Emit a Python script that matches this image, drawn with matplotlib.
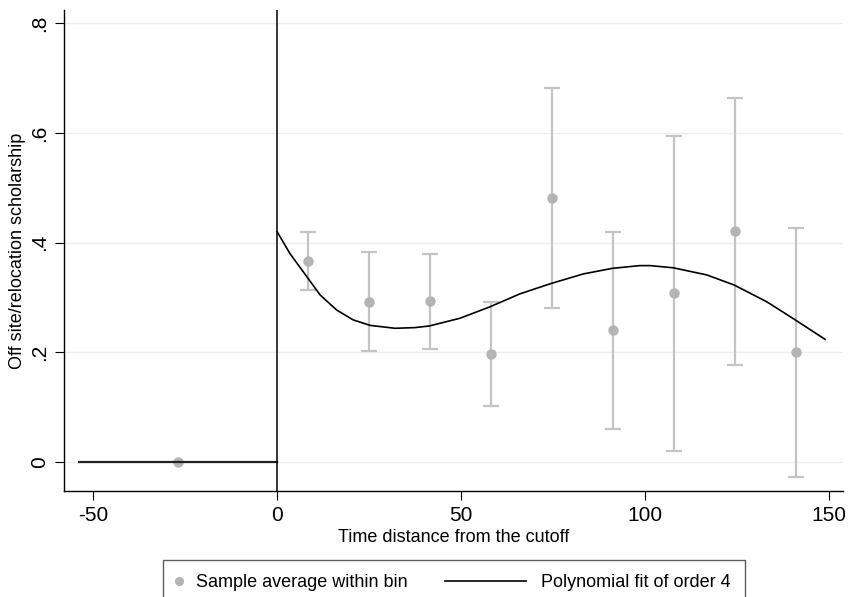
import matplotlib.pyplot as plt
import numpy as np
from matplotlib.legend_handler import HandlerLine2D

plt.rcParams['font.family'] = ['Liberation Sans', 'DejaVu Sans']
plt.rcParams['axes.unicode_minus'] = False

# bin averages right of the cutoff, with their confidence bands
bin_x = [8.3, 24.9, 41.5, 58.1, 74.7, 91.3, 107.9, 124.5, 141.1]
bin_mean = [0.3665, 0.2923, 0.293, 0.197, 0.481, 0.240, 0.3075, 0.4205, 0.200]
bin_lo = [0.3136, 0.2018, 0.206, 0.1027, 0.281, 0.060, 0.020, 0.1775, -0.0274]
bin_hi = [0.420, 0.3834, 0.379, 0.291, 0.682, 0.419, 0.594, 0.6636, 0.427]

# single bin left of the cutoff
left_x = [-26.9]
left_mean = [0.0]

# fitted curves
fit_left_x = [-53.8, 0]
fit_left_y = [0.0, 0.0]
fit_right_x = [0, 3.5, 7.2, 11.7, 16.2, 20.7, 25.3, 32.1, 37.5, 41.4, 49.7,
               57.9, 66.0, 74.6, 83.2, 91.1, 98.6, 101.4, 107.7, 116.8, 124.2,
               133.1, 140.6, 148.9]
fit_right_y = [0.420, 0.380, 0.346, 0.3045, 0.277, 0.259, 0.249, 0.2437,
               0.245, 0.248, 0.262, 0.283, 0.3065, 0.3257, 0.3428, 0.353,
               0.358, 0.358, 0.354, 0.341, 0.3227, 0.292, 0.260, 0.2237]

x_ticks = [-50, 0, 50, 100, 150]
y_ticks = [0, 0.2, 0.4, 0.6, 0.8]
y_tick_labels = ['0', '.2', '.4', '.6', '.8']

dot_col = '#b4b4b4'
bar_col = '#c4c4c4'


# legend line handle drawn longer than the (short) shared handle box
class LongLine(HandlerLine2D):
    def get_xdata(self, legend, xdescent, ydescent, width, height, fontsize):
        x1 = -xdescent + width
        x0 = x1 - 4.5 * fontsize
        return [x0, x1], [0.5 * (x0 + x1)]


fig = plt.figure(figsize=(8.5, 5.97), dpi=100)
ax = fig.add_axes([64/850, 1 - 491/597, (843 - 64)/850, (491 - 10)/597])

for y in y_ticks:
    ax.axhline(y, color='#eeeeee', lw=1.0, zorder=0)

mean = np.array(bin_mean)
yerr = [mean - np.array(bin_lo), np.array(bin_hi) - mean]
ax.errorbar(bin_x, bin_mean, yerr=yerr, fmt='none', ecolor=bar_col,
            elinewidth=1.6, capsize=5.5, capthick=1.6, zorder=2)
dots, = ax.plot(bin_x + left_x, bin_mean + left_mean, 'o', color=dot_col,
                markersize=6.5, zorder=3, label='Sample average within bin')

ax.plot(fit_left_x, fit_left_y, color='#222222', lw=1.6, zorder=4)
fit, = ax.plot(fit_right_x, fit_right_y, color='black', lw=1.2, zorder=4,
               label='Polynomial fit of order 4')

ax.axvline(0, color='black', lw=1.1, zorder=5)

ax.set_xlim(-57.9, 153.8)
ax.set_ylim(-0.0529, 0.824)
ax.set_xticks(x_ticks)
ax.set_yticks(y_ticks)
ax.set_yticklabels(y_tick_labels, rotation=90, va='center')
ax.tick_params(axis='both', labelsize=15, length=6.5, width=0.8, color='black')
ax.tick_params(axis='x', pad=4)
ax.tick_params(axis='y', pad=4)

for side in ['top', 'right']:
    ax.spines[side].set_visible(False)
for side in ['left', 'bottom']:
    ax.spines[side].set_linewidth(1.0)

ax.set_xlabel('Time distance from the cutoff', fontsize=13, labelpad=3.5)
ax.set_ylabel('Off site/relocation scholarship', fontsize=13, labelpad=3)

leg = fig.legend(handles=[dots, fit], handler_map={fit: LongLine()},
                 loc='upper center', bbox_to_anchor=(454/850, 1 - 560/597),
                 borderaxespad=0, ncol=2, fontsize=13, frameon=True,
                 fancybox=False, edgecolor='#333333', handlelength=0.2,
                 columnspacing=6.4, borderpad=0.8, handletextpad=0.83,
                 markerscale=0.85)
leg.get_frame().set_linewidth(1.0)

fig.savefig('out.png', dpi=100)
